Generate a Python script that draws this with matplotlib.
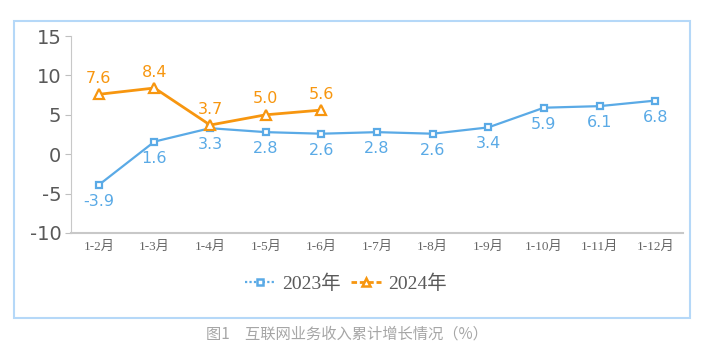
import matplotlib
matplotlib.use("Agg")
import matplotlib.pyplot as plt
from matplotlib.patches import Rectangle
from matplotlib.lines import Line2D

categories = ["1-2月", "1-3月", "1-4月", "1-5月", "1-6月", "1-7月", "1-8月", "1-9月", "1-10月", "1-11月", "1-12月"]
values_2023 = [-3.9, 1.6, 3.3, 2.8, 2.6, 2.8, 2.6, 3.4, 5.9, 6.1, 6.8]
values_2024 = [7.6, 8.4, 3.7, 5.0, 5.6]
series_names = ["2023年", "2024年"]
yticks = [-10, -5, 0, 5, 10, 15]
caption = "图1　互联网业务收入累计增长情况（%）"

blue = "#5aaae6"
orange = "#f7960f"
serif_fam = ["Liberation Serif", "Noto Sans CJK SC"]
cjk_fam = ["Noto Sans CJK SC", "DejaVu Sans"]

fig = plt.figure(figsize=(7.08, 3.56), dpi=100)
ax = fig.add_axes([71/708, 1-233/356, (683-71)/708, (233-36)/356])

x23 = list(range(len(values_2023)))
x24 = list(range(len(values_2024)))
ax.plot(x23, values_2023, color=blue, lw=1.6, marker="s", ms=5,
        mfc="white", mec=blue, mew=1.6, zorder=3)
ax.plot(x24, values_2024, color=orange, lw=2.0, marker="^", ms=7,
        mfc="white", mec=orange, mew=1.6, zorder=4)

for xi, v in zip(x23, values_2023):
    ax.annotate(f"{v:.1f}", (xi, v), xytext=(0, -6.5), textcoords="offset points",
                ha="center", va="top", color=blue, fontsize=11.5, family="DejaVu Sans")
for xi, v in zip(x24, values_2024):
    ax.annotate(f"{v:.1f}", (xi, v), xytext=(0, 6), textcoords="offset points",
                ha="center", va="bottom", color=orange, fontsize=11.5, family="DejaVu Sans")

ax.set_xlim(-0.5, len(categories)-0.5)
ax.set_ylim(-10, 15)
ax.set_yticks(yticks)
ax.set_yticklabels([str(t) for t in yticks], fontsize=14, color="#595959", family="DejaVu Sans")
ax.set_xticks(range(len(categories)))
ax.set_xticklabels(categories, fontsize=9.5, color="#666666", family=serif_fam)
ax.tick_params(axis="x", length=0, pad=6)
ax.tick_params(axis="y", length=4, color="#bfbfbf", pad=3)
for s in ["top", "right"]:
    ax.spines[s].set_visible(False)
ax.spines["left"].set_color("#c8c8c8")
ax.spines["bottom"].set_color("#c8c8c8")
ax.spines["bottom"].set_linewidth(1.5)

handles = [
    Line2D([], [], color=blue, lw=1.6, ls=(0, (1, 1)), marker="s", ms=5, mfc="white", mec=blue, mew=1.8),
    Line2D([], [], color=orange, lw=2.0, ls=(0, (2, 1)), marker="^", ms=6, mfc="white", mec=orange, mew=1.8),
]
leg = fig.legend(handles, series_names, loc="center", bbox_to_anchor=(346/708, 1-284/356),
                 ncol=2, frameon=False, handlelength=1.5, handletextpad=0.4, columnspacing=0.55,
                 prop={"family": serif_fam, "size": 14})
for t in leg.get_texts():
    t.set_color("#595959")

fig.patches.append(Rectangle((14/708, 1-318/356), (690-14)/708, (318-21)/356,
                             transform=fig.transFigure, fill=False, ec="#b5d8f8", lw=1.5))

fig.text(347/708, 1-334/356, caption, ha="center", va="center", fontsize=11,
         color="#a6a6a6", family=cjk_fam)

fig.savefig("out.png", dpi=100)
